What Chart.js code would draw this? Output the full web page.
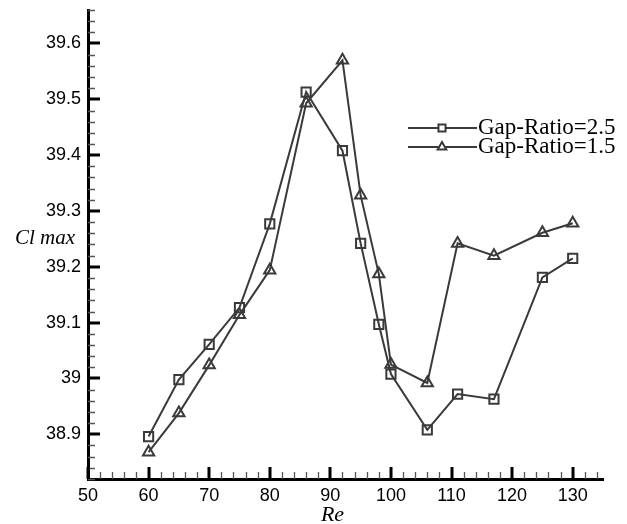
<!DOCTYPE html>
<html>
<head>
<meta charset="utf-8">
<script src="https://cdn.jsdelivr.net/npm/chart.js@4.4.1/dist/chart.umd.min.js"></script>
<style>
  html, body { margin: 0; padding: 0; background: #fff; }
  #c { display: block; }
</style>
</head>
<body>
<canvas id="c" width="627" height="524"></canvas>
<script>
// ---- data ----
const reValues = [60, 65, 70, 75, 80, 86, 92, 95, 98, 100, 106, 111, 117, 125, 130];
const gap25 = [38.896, 38.998, 39.061, 39.127, 39.277, 39.513, 39.408, 39.242, 39.097, 39.008, 38.908, 38.972, 38.963, 39.181, 39.215];
const gap15 = [38.868, 38.938, 39.024, 39.114, 39.194, 39.493, 39.570, 39.328, 39.187, 39.025, 38.992, 39.242, 39.220, 39.261, 39.278];
const seriesLabels = ['Gap-Ratio=2.5', 'Gap-Ratio=1.5'];
const xTicks = [50, 60, 70, 80, 90, 100, 110, 120, 130];
const yTicks = [38.9, 39.0, 39.1, 39.2, 39.3, 39.4, 39.5, 39.6];
const yTickLabels = ['38.9', '39', '39.1', '39.2', '39.3', '39.4', '39.5', '39.6'];
const xTitle = 'Re';
const yTitle = 'Cl max';

const X_MIN = 50, X_MAX = 135, Y_MIN = 38.82, Y_MAX = 39.66;
const X_MINOR = 2, Y_MINOR = 0.02;
const LINE = '#3a3a3a';

const toPts = ys => reValues.map((x, i) => ({ x, y: ys[i] }));

const axisPlugin = {
  id: 'axisDecor',
  afterDraw(chart) {
    const ctx = chart.ctx;
    const xs = chart.scales.x, ys = chart.scales.y;
    const ca = chart.chartArea;
    ctx.save();
    // minor ticks
    ctx.strokeStyle = '#555';
    ctx.lineWidth = 1.3;
    ctx.beginPath();
    for (let k = 0; X_MIN + k * X_MINOR <= X_MAX + 1e-9; k++) {
      const v = X_MIN + k * X_MINOR;
      if (Math.abs((v - X_MIN) % 10) < 1e-6) continue;
      const px = Math.round(xs.getPixelForValue(v)) + 0.5;
      ctx.moveTo(px, ca.bottom); ctx.lineTo(px, ca.bottom - 7);
    }
    for (let k = 0; Y_MIN + k * Y_MINOR <= Y_MAX + 1e-9; k++) {
      const v = +(Y_MIN + k * Y_MINOR).toFixed(2);
      if (yTicks.some(t => Math.abs(t - v) < 1e-6)) continue;
      const py = Math.round(ys.getPixelForValue(v)) + 0.5;
      ctx.moveTo(ca.left, py); ctx.lineTo(ca.left + 7, py);
    }
    ctx.stroke();
    // major ticks
    ctx.strokeStyle = '#000';
    ctx.lineWidth = 3;
    ctx.beginPath();
    xTicks.forEach(v => {
      const px = Math.round(xs.getPixelForValue(v));
      ctx.moveTo(px, ca.bottom); ctx.lineTo(px, ca.bottom - 12);
    });
    yTicks.forEach(v => {
      const py = Math.round(ys.getPixelForValue(v));
      ctx.moveTo(ca.left, py); ctx.lineTo(ca.left + 12, py);
    });
    ctx.stroke();
    // axis titles
    ctx.fillStyle = '#000';
    ctx.font = 'italic 22px "Liberation Serif", "Times New Roman", serif';
    ctx.textAlign = 'center';
    ctx.textBaseline = 'middle';
    ctx.fillText(xTitle, (ca.left + ca.right) / 2 - 13, 515);
    ctx.font = 'italic 21px "Liberation Serif", "Times New Roman", serif';
    ctx.fillText(yTitle, 45, ys.getPixelForValue(39.25));
    // legend
    const rows = [128, 147];
    chart.data.datasets.forEach((ds, i) => {
      const y = rows[i];
      ctx.strokeStyle = LINE;
      ctx.lineWidth = 2;
      ctx.beginPath();
      ctx.moveTo(408, y); ctx.lineTo(477, y);
      ctx.stroke();
      ctx.fillStyle = '#fff';
      ctx.strokeStyle = LINE;
      ctx.lineWidth = 2;
      Chart.helpers.drawPoint(ctx, { pointStyle: ds.pointStyle, radius: 5, borderWidth: 2, rotation: 0 }, 442, y);
      ctx.fillStyle = '#000';
      ctx.font = '23px "Liberation Serif", "Times New Roman", serif';
      ctx.textAlign = 'left';
      ctx.textBaseline = 'middle';
      ctx.fillText(ds.label, 478, y);
    });
    ctx.restore();
  }
};

new Chart(document.getElementById('c'), {
  type: 'line',
  data: {
    datasets: [
      {
        label: seriesLabels[0], data: toPts(gap25),
        borderColor: LINE, borderWidth: 2, backgroundColor: 'rgba(0,0,0,0)',
        pointStyle: 'rect', pointRadius: 6.5, pointBorderWidth: 2,
        pointBorderColor: LINE, pointBackgroundColor: 'rgba(0,0,0,0)', tension: 0
      },
      {
        label: seriesLabels[1], data: toPts(gap15),
        borderColor: LINE, borderWidth: 2, backgroundColor: 'rgba(0,0,0,0)',
        pointStyle: 'triangle', pointRadius: 6.5, pointBorderWidth: 2,
        pointBorderColor: LINE, pointBackgroundColor: 'rgba(0,0,0,0)', tension: 0
      }
    ]
  },
  options: {
    responsive: false,
    animation: false,
    devicePixelRatio: 1,
    layout: { padding: { top: 10, right: 24, left: 0, bottom: 0 } },
    plugins: { legend: { display: false }, tooltip: { enabled: false } },
    scales: {
      x: {
        type: 'linear', min: X_MIN, max: X_MAX,
        grid: { display: false, drawTicks: false },
        border: { display: true, color: '#000', width: 3 },
        afterBuildTicks: s => { s.ticks = xTicks.map(v => ({ value: v })); },
        afterFit: s => { s.height = 45; s.paddingLeft = 0; s.paddingRight = 0; },
        ticks: {
          padding: 6, color: '#000',
          font: { family: '"Liberation Sans", Arial, sans-serif', size: 18 },
          callback: v => String(v)
        }
      },
      y: {
        type: 'linear', min: Y_MIN, max: Y_MAX,
        grid: { display: false, drawTicks: false },
        border: { display: true, color: '#000', width: 3 },
        afterBuildTicks: s => { s.ticks = yTicks.map(v => ({ value: v })); },
        afterFit: s => { s.width = 88; s.paddingTop = 0; s.paddingBottom = 0; },
        ticks: {
          padding: 7, color: '#000',
          font: { family: '"Liberation Sans", Arial, sans-serif', size: 18 },
          callback: (v, i) => yTickLabels[i]
        }
      }
    }
  },
  plugins: [axisPlugin]
});
</script>
</body>
</html>
